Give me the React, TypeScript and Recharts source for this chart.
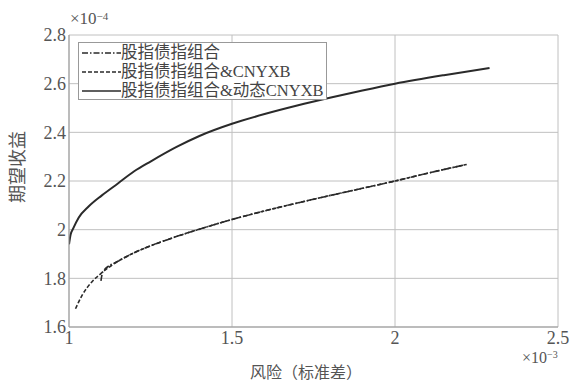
import React from 'react';
import { LineChart, Line, XAxis, YAxis, CartesianGrid } from 'recharts';

// Upper frontier: 股指债指组合&动态CNYXB
const dynX = [1.0, 1.005, 1.013, 1.03, 1.06, 1.1, 1.15, 1.2, 1.25, 1.33, 1.4, 1.5, 1.6, 1.7, 1.8, 1.9, 2.0, 2.15, 2.29];
const dynY = [1.94, 1.98, 2.005, 2.05, 2.095, 2.14, 2.19, 2.24, 2.28, 2.34, 2.385, 2.435, 2.475, 2.51, 2.542, 2.572, 2.6, 2.635, 2.664];

// 股指债指组合&CNYXB (dashed)
const cnyX = [1.02, 1.04, 1.07, 1.1, 1.15, 1.2, 1.3, 1.4, 1.5, 1.6, 1.75, 1.9, 2.0, 2.1, 2.22];
const cnyY = [1.675, 1.73, 1.785, 1.822, 1.87, 1.905, 1.958, 2.002, 2.042, 2.077, 2.125, 2.17, 2.2, 2.232, 2.268];

// 股指债指组合 (dash-dot)
const baseX = [1.098, 1.104, 1.15, 1.2, 1.3, 1.4, 1.5, 1.6, 1.75, 1.9, 2.0, 2.1, 2.22];
const baseY = [1.79, 1.828, 1.87, 1.905, 1.958, 2.002, 2.042, 2.077, 2.125, 2.17, 2.2, 2.232, 2.268];

const xTicks = [1, 1.5, 2, 2.5];
const yTicks = [1.6, 1.8, 2, 2.2, 2.4, 2.6, 2.8];

const seriesNames = ['股指债指组合', '股指债指组合&CNYXB', '股指债指组合&动态CNYXB'];
const dashes = ['6 2 1.5 2', '4 2', ''];

const zip = (xs: number[], ys: number[]) => xs.map((x, i) => ({ x, y: ys[i] }));
const baseData = zip(baseX, baseY);
const cnyData = zip(cnyX, cnyY);
const dynData = zip(dynX, dynY);

const FONT = "'Liberation Serif', 'Noto Sans CJK SC'";
const TXT = '#555';
const LINE = '#2a2a2a';

const LegendBox = () => (
  <div
    style={{
      position: 'absolute',
      left: 78,
      top: 42,
      width: 249,
      height: 58,
      border: '1px solid #999',
      background: '#fff',
      fontSize: 16.5,
      color: '#444',
      boxSizing: 'border-box',
      paddingTop: 1,
    }}
  >
    {seriesNames.map((n, i) => (
      <div key={n} style={{ display: 'flex', alignItems: 'center', height: 18.7, whiteSpace: 'nowrap' }}>
        <svg width={40} height={10} style={{ marginLeft: 2, flex: 'none' }}>
          <line x1={1} y1={5} x2={40} y2={5} stroke={LINE} strokeWidth={1.6} strokeDasharray={dashes[i]} />
        </svg>
        <span style={{ lineHeight: '18px' }}>{n}</span>
      </div>
    ))}
  </div>
);

export default function App() {
  return (
    <div style={{ position: 'absolute', left: 0, top: 0, width: 574, height: 382, background: '#fff', fontFamily: FONT }}>
      <LineChart width={574} height={382} margin={{ top: 35, right: 16, left: 9, bottom: 25 }} style={{ fontFamily: FONT }}>
        <CartesianGrid stroke="#c0c0c0" strokeWidth={1} />
        <XAxis
          dataKey="x"
          type="number"
          domain={[1, 2.5]}
          ticks={xTicks}
          allowDataOverflow
          height={30}
          tickSize={0}
          tickMargin={4}
          tickLine={false}
          axisLine={{ stroke: '#999' }}
          tick={{ fontSize: 18, fill: TXT, fontFamily: 'Liberation Serif' }}
        />
        <XAxis xAxisId="top" orientation="top" type="number" domain={[1, 2.5]} tick={false} tickLine={false} height={0} axisLine={{ stroke: '#999' }} />
        <YAxis
          type="number"
          domain={[1.6, 2.8]}
          ticks={yTicks}
          allowDataOverflow
          width={60}
          tickSize={0}
          tickMargin={3}
          tickLine={false}
          axisLine={{ stroke: '#999' }}
          tick={{ fontSize: 18, fill: TXT, fontFamily: 'Liberation Serif' }}
        />
        <YAxis yAxisId="right" orientation="right" type="number" domain={[1.6, 2.8]} tick={false} tickLine={false} width={0} axisLine={{ stroke: '#999' }} />
        <Line data={baseData} dataKey="y" name={seriesNames[0]} type="monotone" stroke={LINE} strokeWidth={1.6} strokeDasharray={dashes[0]} dot={false} isAnimationActive={false} />
        <Line data={cnyData} dataKey="y" name={seriesNames[1]} type="monotone" stroke={LINE} strokeWidth={1.6} strokeDasharray={dashes[1]} dot={false} isAnimationActive={false} />
        <Line data={dynData} dataKey="y" name={seriesNames[2]} type="monotone" stroke={LINE} strokeWidth={2} dot={false} isAnimationActive={false} />
      </LineChart>
      <LegendBox />
      <div style={{ position: 'absolute', left: 70, top: 9, fontSize: 17, color: TXT, whiteSpace: 'nowrap', lineHeight: '20px' }}>
        ×10<sup style={{ fontSize: 11, verticalAlign: 'top', position: 'relative', top: -3 }}>−4</sup>
      </div>
      <div style={{ position: 'absolute', left: 522, top: 349, fontSize: 16, color: TXT, whiteSpace: 'nowrap', lineHeight: '18px' }}>
        ×10<sup style={{ fontSize: 10, verticalAlign: 'top', position: 'relative', top: -3 }}>−3</sup>
      </div>
      <div style={{ position: 'absolute', left: 250, top: 364, fontSize: 16, color: TXT, whiteSpace: 'nowrap', lineHeight: '18px' }}>
        风险（标准差）
      </div>
      <div
        style={{
          position: 'absolute',
          left: 18,
          top: 167,
          transform: 'translate(-50%, -50%) rotate(-90deg)',
          fontSize: 18,
          color: TXT,
          whiteSpace: 'nowrap',
          lineHeight: '20px',
        }}
      >
        期望收益
      </div>
    </div>
  );
}
